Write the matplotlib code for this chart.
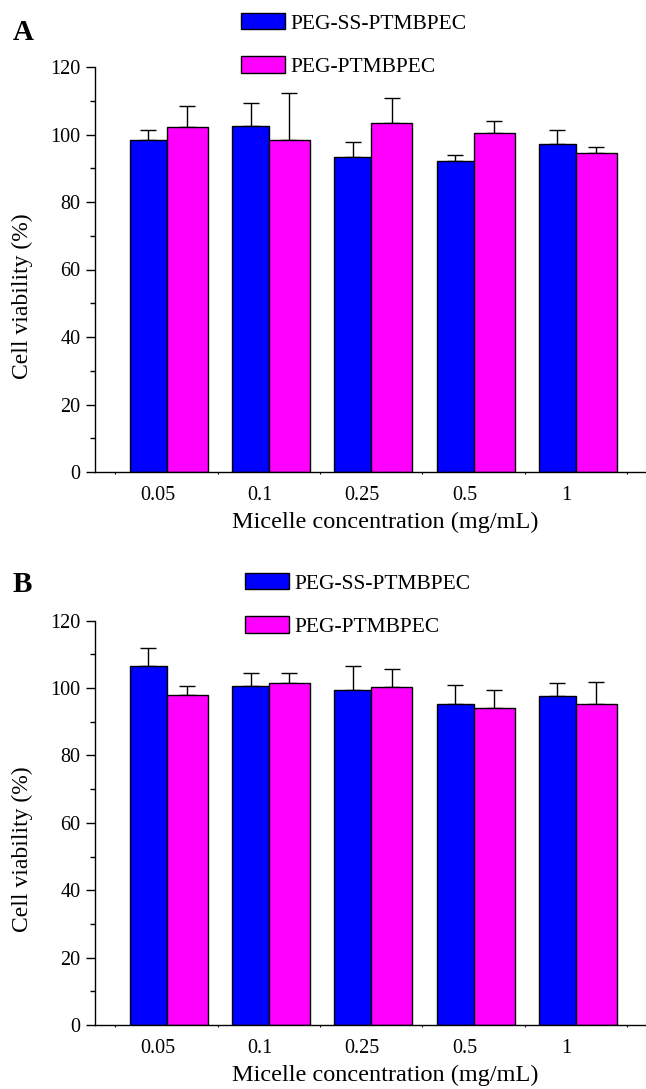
import matplotlib
matplotlib.use("Agg")
import matplotlib.pyplot as plt
import numpy as np

plt.rcParams['font.family'] = ['Liberation Serif', 'DejaVu Serif']

concentrations = ['0.05', '0.1', '0.25', '0.5', '1']
series_names = ['PEG-SS-PTMBPEC', 'PEG-PTMBPEC']

# panel A
a_ss = [98.3, 102.6, 93.3, 92.2, 97.3]
a_ss_err = [3.0, 6.8, 4.5, 1.7, 4.1]
a_peg = [102.3, 98.4, 103.4, 100.4, 94.5]
a_peg_err = [6.2, 14.0, 7.3, 3.5, 1.8]

# panel B
b_ss = [106.7, 100.7, 99.4, 95.2, 97.6]
b_ss_err = [5.1, 3.9, 7.3, 5.6, 3.8]
b_peg = [97.8, 101.4, 100.2, 94.0, 95.3]
b_peg_err = [2.7, 3.2, 5.4, 5.3, 6.4]

W, H = 646, 1089
fig = plt.figure(figsize=(W / 100, H / 100), dpi=100)

blue = '#0000ff'
pink = '#ff00ff'


def draw_panel(ax, ss, ss_err, peg, peg_err):
    x = np.arange(len(concentrations))
    wb, wp = 0.36, 0.40
    b1 = ax.bar(x - wb, ss, width=wb, align='edge', color=blue,
                edgecolor='black', linewidth=1.0, zorder=2)
    b2 = ax.bar(x, peg, width=wp, align='edge', color=pink,
                edgecolor='black', linewidth=1.0, zorder=2)
    zeros = np.zeros(len(x))
    ax.errorbar(x - wb / 2, ss, yerr=[zeros, ss_err], fmt='none',
                ecolor='black', elinewidth=1.0, capsize=6, capthick=1.0, zorder=1)
    ax.errorbar(x + wp / 2, peg, yerr=[zeros, peg_err], fmt='none',
                ecolor='black', elinewidth=1.0, capsize=6, capthick=1.0, zorder=1)

    ax.set_xlim(-0.70, 4.685)
    ax.set_ylim(0, 120)
    ax.set_yticks(np.arange(0, 121, 20))
    ax.set_yticks(np.arange(10, 120, 20), minor=True)
    ax.set_xticks(x - 0.09)
    ax.set_xticklabels(concentrations)
    ax.set_xticks(np.arange(-0.5, 5, 1), minor=True)
    ax.tick_params(axis='y', which='major', length=6.5, width=1.0, pad=4, labelsize=14.5)
    ax.tick_params(axis='y', which='minor', length=3.6, width=1.0)
    ax.tick_params(axis='x', which='major', length=0, pad=10, labelsize=14.5)
    ax.tick_params(axis='x', which='minor', length=1.5, width=0.8)
    for s in ['top', 'right']:
        ax.spines[s].set_visible(False)
    for s in ['left', 'bottom']:
        ax.spines[s].set_linewidth(1.0)

    ax.set_ylabel('Cell viability (%)', fontsize=17)
    ax.yaxis.set_label_coords(-0.112, 0.435)
    ax.set_xlabel('Micelle concentration (mg/mL)', fontsize=17.5)
    ax.xaxis.set_label_coords(0.526, -0.098)
    return b1, b2


axA = fig.add_axes([95 / W, 1 - 472 / H, 551 / W, 405 / H])
hA = draw_panel(axA, a_ss, a_ss_err, a_peg, a_peg_err)
axB = fig.add_axes([95 / W, 1 - 1025 / H, 551 / W, 404.3 / H])
hB = draw_panel(axB, b_ss, b_ss_err, b_peg, b_peg_err)

for ax, h, top, left in [(axA, hA, 13, 241), (axB, hB, 573, 245)]:
    fig.legend(h, series_names, loc='upper left',
               bbox_to_anchor=(left / W, 1 - top / H), frameon=False,
               fontsize=15.5, borderpad=0, borderaxespad=0,
               handlelength=2.05, handleheight=0.8, handletextpad=0.25,
               labelspacing=1.05)

fig.text(13 / W, 1 - 40 / H, 'A', fontsize=21, fontweight='bold', va='baseline')
fig.text(13 / W, 1 - 592 / H, 'B', fontsize=21, fontweight='bold', va='baseline')

fig.savefig('out.png', dpi=100)
